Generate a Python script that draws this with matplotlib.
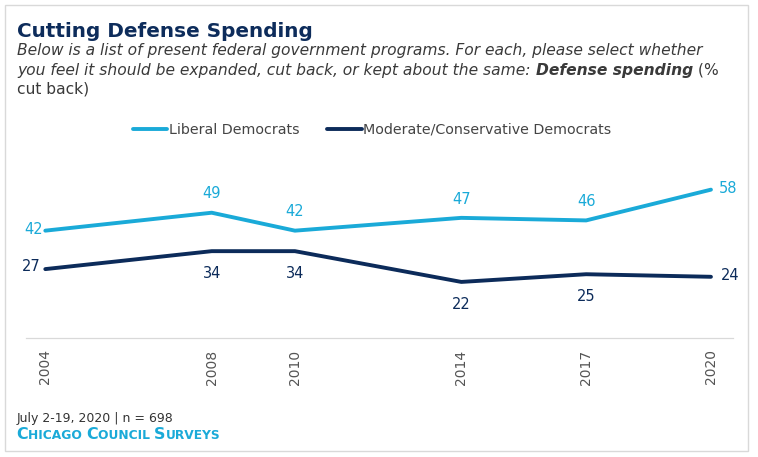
import numpy as np
import matplotlib
matplotlib.use("Agg")
import matplotlib.pyplot as plt
from matplotlib.patches import Rectangle

years = [2004, 2008, 2010, 2014, 2017, 2020]
liberal = [42, 49, 42, 47, 46, 58]
moderate = [27, 34, 34, 22, 25, 24]
series_names = ["Liberal Democrats", "Moderate/Conservative Democrats"]

cyan = "#1aaad8"
navy = "#0c2b5a"
W, H = 758, 457

plt.rcParams["font.family"] = ["DejaVu Sans"]

fig = plt.figure(figsize=(W / 100, H / 100), dpi=100)
fig.patch.set_facecolor("white")

# outer frame
fig.add_artist(Rectangle((5 / W, 1 - 450.7 / H), 743.3 / W, 445.7 / H,
                         transform=fig.transFigure, fill=False,
                         edgecolor="#d9d9d9", linewidth=1))

ax = fig.add_axes([26 / W, 1 - 338.3 / H, (733 - 26) / W, 179.4 / H])
ax.plot(years, liberal, color=cyan, lw=2.8, solid_capstyle="round",
        solid_joinstyle="round", label=series_names[0])
ax.plot(years, moderate, color=navy, lw=2.8, solid_capstyle="round",
        solid_joinstyle="round", label=series_names[1])
ax.set_xlim(2003.536, 2020.53)
ax.set_ylim(0, 70)

for s in ["top", "left", "right"]:
    ax.spines[s].set_visible(False)
ax.spines["bottom"].set_color("#d9d9d9")
ax.spines["bottom"].set_linewidth(0.9)
ax.set_yticks([])
ax.set_xticks(years)
ax.set_xticklabels([str(y) for y in years], rotation=90, fontsize=10,
                   color="#555555")
ax.tick_params(axis="x", length=0, pad=8)

lab = dict(fontsize=10.5, textcoords="offset points", annotation_clip=False)
n = len(years)
for i, (x, a, b) in enumerate(zip(years, liberal, moderate)):
    if i == 0:
        ax.annotate(str(a), (x, a), xytext=(-1.5, 1), ha="right", va="center", color=cyan, **lab)
        ax.annotate(str(b), (x, b), xytext=(-3.5, 2), ha="right", va="center", color=navy, **lab)
    elif i == n - 1:
        ax.annotate(str(a), (x, a), xytext=(6, 1), ha="left", va="center", color=cyan, **lab)
        ax.annotate(str(b), (x, b), xytext=(7.5, 1.2), ha="left", va="center", color=navy, **lab)
    else:
        ax.annotate(str(a), (x, a), xytext=(0, 13.5), ha="center", va="center", color=cyan, **lab)
        ax.annotate(str(b), (x, b), xytext=(0, -16), ha="center", va="center", color=navy, **lab)

leg = fig.legend(loc="center left", bbox_to_anchor=(133 / W, 1 - 130 / H), ncol=2,
                 frameon=False, fontsize=10.3, handlelength=2.4, handletextpad=0.1,
                 columnspacing=1.95, borderpad=0, borderaxespad=0)
for t in leg.get_texts():
    t.set_color("#444444")

# title and subtitle
fig.text(17.3 / W, 1 - 36.7 / H, "Cutting Defense Spending", fontsize=14.4,
         fontweight="bold", color="#0d2c5b", va="baseline", ha="left")

renderer = fig.canvas.get_renderer()


def run_text(x_px, base_px, pieces):
    x = x_px
    for s, kw in pieces:
        t = fig.text(x / W, 1 - base_px / H, s, va="baseline", ha="left", **kw)
        x = t.get_window_extent(renderer).x1
    return x


sub = dict(fontsize=11.2, color="#3a3a3a")
run_text(17.3, 55, [("Below is a list of present federal government programs. For each, please select whether",
                     dict(style="italic", **sub))])
run_text(17.3, 74.5, [("you feel it should be expanded, cut back, or kept about the same: ", dict(style="italic", **sub)),
                      ("Defense spending", dict(style="italic", fontweight="bold", **sub)),
                      (" (%", dict(**sub))])
run_text(17.3, 94, [("cut back)", dict(**sub))])

# footer
fig.text(16.7 / W, 1 - 421.7 / H, "July 2-19, 2020 | n = 698", fontsize=9,
         color="#333333", va="baseline", ha="left")
big = dict(fontsize=11.4, fontweight="bold", color=cyan)
small = dict(fontsize=8.8, fontweight="bold", color=cyan)
run_text(16.7, 439.3, [("C", big), ("HICAGO ", small), ("C", big), ("OUNCIL ", small),
                       ("S", big), ("URVEYS", small)])

fig.savefig("out.png", dpi=100, facecolor="white")
